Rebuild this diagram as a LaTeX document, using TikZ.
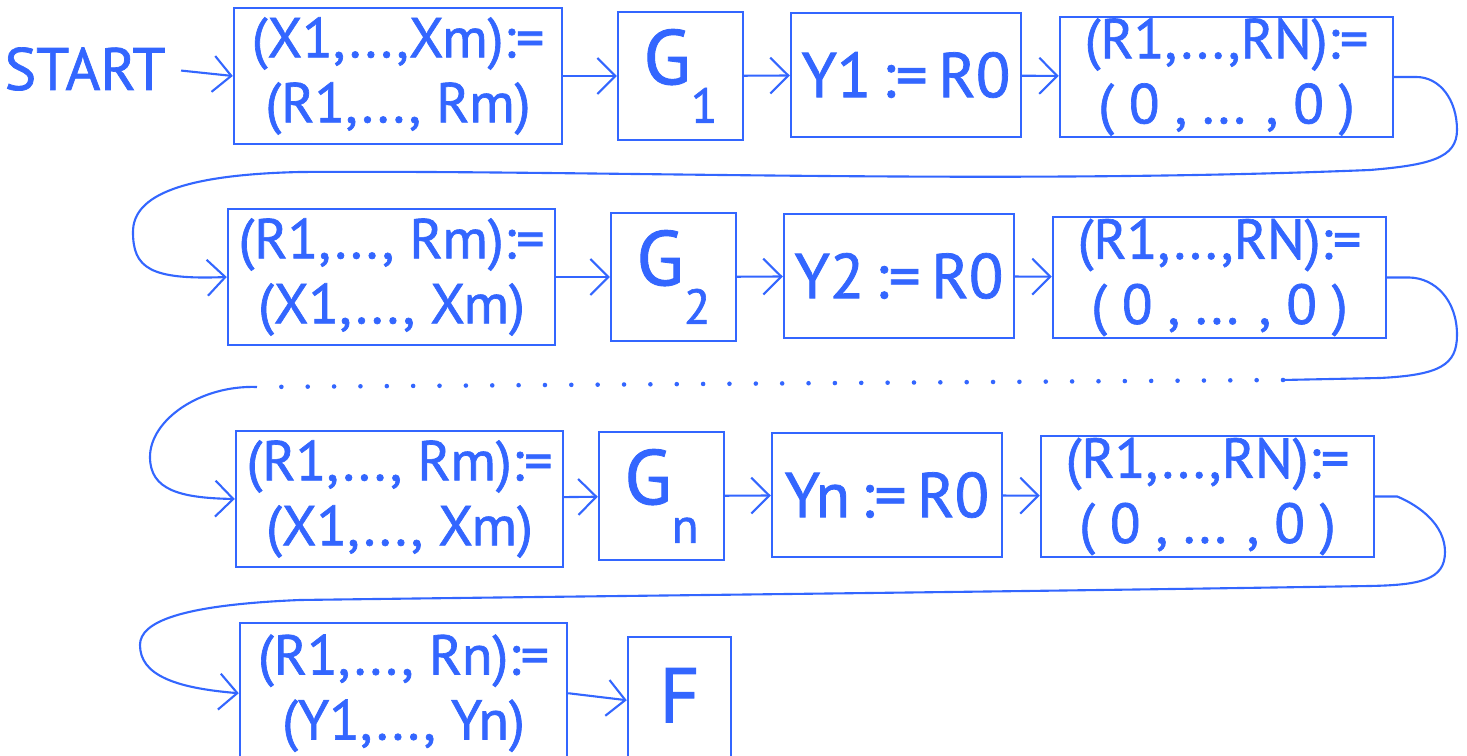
\documentclass[tikz,border=0pt]{standalone}
\usepackage{fontspec}
\setmainfont{PT Sans}
\newfontfamily\hand{PT Sans}[FakeBold=1.2]
\usetikzlibrary{arrows.meta}
\definecolor{ink}{RGB}{51,102,255}
\newcommand{\sub}[1]{\raisebox{-0.5em}{\fontsize{14}{14}\selectfont #1}}
\begin{document}
\begin{tikzpicture}[x=0.1mm,y=-0.1mm,
  box/.style={draw=ink,line width=0.7pt,inner sep=0pt,text=ink,align=center},
  two/.style={font=\hand\fontsize{16}{18.5}\selectfont},
  one/.style={font=\hand\fontsize{18}{20}\selectfont},
  gee/.style={font=\hand\fontsize{22}{24}\selectfont},
  arr/.style={draw=ink,line width=0.6pt,-{Straight Barb[length=1.8mm,width=3.6mm]}},
  wire/.style={draw=ink,line width=0.6pt},
  dotline/.style={draw=ink,line width=1.3pt,line cap=round,dash pattern=on 0pt off 7.5pt}]
\useasboundingbox (0,0) rectangle (1467,756);
\clip (0,0) rectangle (1467,756);
% row 1
\node[text=ink,font=\hand\fontsize{17}{19}\selectfont,inner sep=0pt] (start) at (85,69) {START};
\node[box,two,minimum width=32.8mm,minimum height=13.6mm] (b1) at (398,76) {(X1,...,Xm):=\\(R1,..., Rm)};
\node[box,gee,minimum width=12.5mm,minimum height=12.8mm] (b2) at (680.5,76) {G\sub{1}};
\node[box,one,minimum width=23mm,minimum height=12.4mm] (b3) at (906,75) {Y1\,:=\,R0};
\node[box,two,minimum width=33.3mm,minimum height=12.0mm] (b4) at (1226.5,77) {(R1,...,RN):=\\( 0 , ... , 0 )};
% row 2
\node[box,two,minimum width=32.7mm,minimum height=13.6mm] (b5) at (391.5,277) {(R1,..., Rm):=\\(X1,..., Xm)};
\node[box,gee,minimum width=12.5mm,minimum height=12.8mm] (b6) at (673.5,277) {G\sub{2}};
\node[box,one,minimum width=23mm,minimum height=12.4mm] (b7) at (899,276) {Y2\,:=\,R0};
\node[box,two,minimum width=33.3mm,minimum height=12.1mm] (b8) at (1219.5,277.5) {(R1,...,RN):=\\( 0 , ... , 0 )};
% row 3
\node[box,two,minimum width=32.7mm,minimum height=13.6mm] (b9) at (399.5,499) {(R1,..., Rm):=\\(X1,..., Xm)};
\node[box,gee,minimum width=12.5mm,minimum height=12.8mm] (b10) at (661.5,496) {G\sub{n}};
\node[box,one,minimum width=23mm,minimum height=12.4mm] (b11) at (887,495) {Yn\,:=\,R0};
\node[box,two,minimum width=33.3mm,minimum height=12.1mm] (b12) at (1207.5,496.5) {(R1,...,RN):=\\( 0 , ... , 0 )};
% row 4
\node[box,two,minimum width=32.7mm,minimum height=14mm,anchor=north] (b13) at (403.5,622) {(R1,..., Rn):=\\(Y1,..., Yn)};
\node[box,gee,minimum width=10.3mm,minimum height=12.6mm,anchor=north] (b14) at (679.5,636) {\raisebox{1mm}{F}};
% straight arrows
\draw[arr,shorten <=1.5mm] (start.east) -- (b1.west);
\draw[arr] (b1) -- (b2);
\draw[arr] (b2) -- (b3);
\draw[arr] (b3) -- (b4);
\draw[arr] (b5) -- (b6);
\draw[arr] (b6) -- (b7);
\draw[arr] (b7) -- (b8);
\draw[arr] (b9) -- (b10);
\draw[arr] (b10) -- (b11);
\draw[arr] (b11) -- (b12);
\draw[arr] (b13.east) -- (b14.west);
% wrap-around connectors
\draw[arr] (b4.east) -- ++(22,0) .. controls (1440,77) and (1457,100) .. (1457,130)
  .. controls (1457,158) and (1430,165) .. (1370,170)
  .. controls (1000,185) and (600,170) .. (300,172)
  .. controls (170,175) and (133,200) .. (133,232)
  .. controls (133,268) and (150,280) .. (b5.west);
\coordinate (c1) at (1283,380);
\coordinate (c2) at (257,387);
\draw[wire] (b8.east) -- ++(22,0) .. controls (1435,278) and (1457,300) .. (1457,335)
  .. controls (1457,365) and (1440,375) .. (1380,378) -- (c1);
\draw[dotline] (c1) -- (c2);
\draw[arr] (c2) .. controls (200,385) and (150,420) .. (150,457)
  .. controls (150,490) and (180,498) .. (b9.west);
\draw[arr] (b12.east) -- ++(22,0) .. controls (1420,506) and (1445,525) .. (1445,552)
  .. controls (1445,580) and (1420,585) .. (1370,586)
  .. controls (1000,592) and (600,596) .. (300,600)
  .. controls (180,605) and (140,622) .. (140,645)
  .. controls (140,675) and (175,688) .. (b13.west);
\end{tikzpicture}
\end{document}
